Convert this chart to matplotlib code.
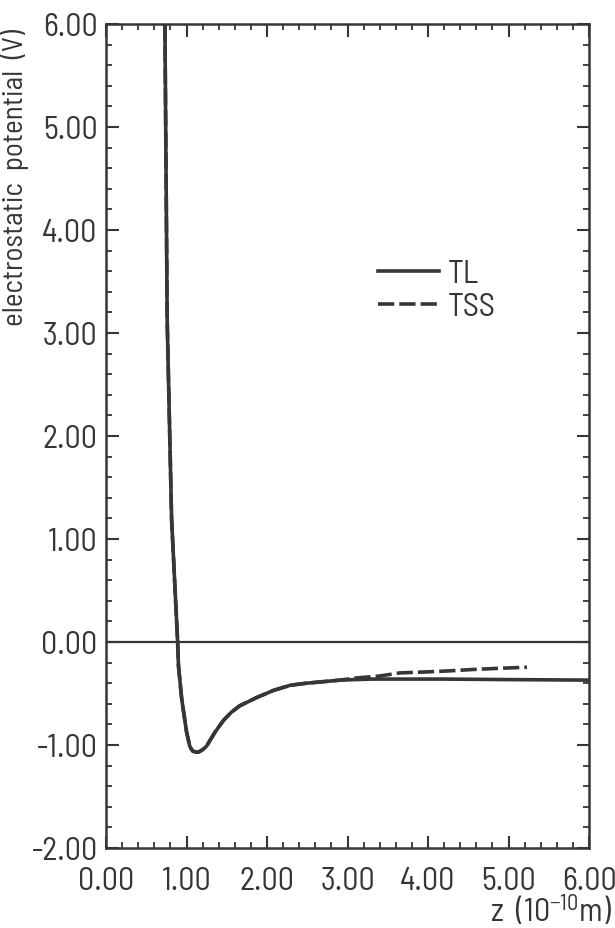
import matplotlib
matplotlib.use('Agg')
import matplotlib.pyplot as plt
from matplotlib.ticker import MultipleLocator, FormatStrFormatter

# values (z in 1e-10 m, potential in V)
z_common = [0.73, 0.76, 0.815, 0.89, 0.90, 0.94, 1.00, 1.04, 1.06, 1.08, 1.10, 1.13,
            1.16, 1.19, 1.21, 1.25, 1.35, 1.46, 1.56, 1.66, 1.87, 2.08, 2.29, 2.49, 2.91]
v_common = [6.2, 3.13, 1.19, 0.0, -0.23, -0.55, -0.87, -1.01, -1.04, -1.06, -1.065, -1.07,
            -1.065, -1.05, -1.04, -1.01, -0.88, -0.76, -0.68, -0.62, -0.54, -0.47, -0.42,
            -0.40, -0.37]

z_tl_tail = [3.3, 3.65, 4.2, 5.0, 6.0]
v_tl_tail = [-0.36, -0.36, -0.36, -0.365, -0.37]

z_tss_tail = [3.1, 3.4, 3.65, 4.0, 4.27, 4.6, 4.9, 5.23]
v_tss_tail = [-0.35, -0.33, -0.30, -0.29, -0.28, -0.265, -0.255, -0.245]

x_ticks = [0, 1, 2, 3, 4, 5, 6]
y_ticks = [-2, -1, 0, 1, 2, 3, 4, 5, 6]

ink = '#363636'

plt.rcParams['font.family'] = ['Barlow Semi Condensed', 'DejaVu Sans']
plt.rcParams['mathtext.default'] = 'regular'
fs = 23

fig = plt.figure(figsize=(6.15, 9.29), dpi=100)
ax = fig.add_axes([106 / 615, 80 / 929, 483 / 615, 824 / 929])

ax.plot(z_common + z_tss_tail, v_common + v_tss_tail, color=ink, lw=2.6,
        dashes=(4.5, 1.4), label='TSS', zorder=3)
ax.plot(z_common + z_tl_tail, v_common + v_tl_tail, color=ink, lw=2.6,
        label='TL', zorder=4)
ax.axhline(0, color=ink, lw=1.6, zorder=2)

ax.set_xlim(0, 6)
ax.set_ylim(-2, 6)
ax.set_xticks(x_ticks)
ax.set_yticks(y_ticks)
ax.xaxis.set_minor_locator(MultipleLocator(0.2))
ax.yaxis.set_minor_locator(MultipleLocator(0.2))
ax.xaxis.set_major_formatter(FormatStrFormatter('%.2f'))
ax.yaxis.set_major_formatter(FormatStrFormatter('%.2f'))
ax.tick_params(which='both', direction='in', top=True, right=True, color=ink,
               labelcolor=ink, labelsize=fs)
ax.tick_params(which='major', length=9, width=1.5)
ax.tick_params(which='minor', length=4, width=1.3)
ax.tick_params(axis='x', which='major', pad=13)
ax.tick_params(axis='y', which='major', pad=6)
for s in ax.spines.values():
    s.set_color(ink)
    s.set_linewidth(1.8)

ax.set_ylabel('electrostatic  potential  (V)', fontsize=fs - 2, color=ink)
ax.yaxis.set_label_coords(-0.16, 0.815)
fig.text(612 / 615, 1 - 912 / 929, 'z  (10$^{-10}$m)', ha='right', va='center',
         fontsize=fs, color=ink)

h, l = ax.get_legend_handles_labels()
leg = ax.legend(h[::-1], l[::-1], loc='upper left', bbox_to_anchor=(0.563, 0.715),
                frameon=False, fontsize=fs, handlelength=1.9, handletextpad=0.3,
                labelspacing=0.1, borderpad=0, borderaxespad=0)
for t in leg.get_texts():
    t.set_color(ink)

fig.savefig('out.png', dpi=100)
